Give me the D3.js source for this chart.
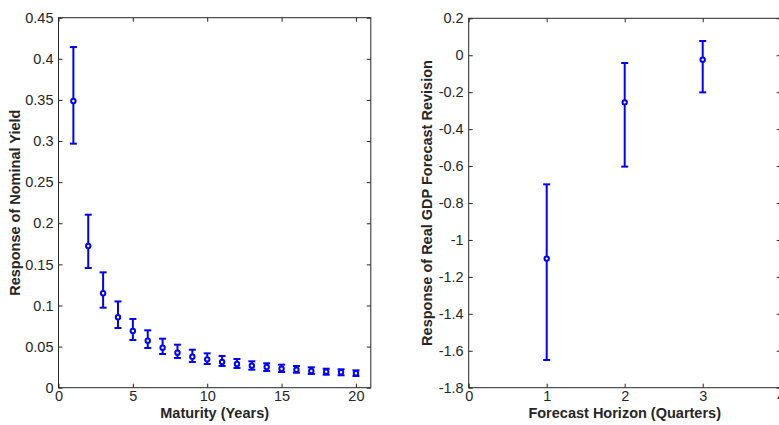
<!DOCTYPE html>
<html>
<head>
<meta charset="utf-8">
<script src="https://cdn.jsdelivr.net/npm/d3@7"></script>
<style>
  body { margin: 0; background: #fff; }
  svg { display: block; }
  text { font-family: "Liberation Sans", Arial, Helvetica, sans-serif; }
</style>
</head>
<body>
<svg id="chart" width="779" height="425"></svg>
<script>
// ---- Data ----
const maturity = [1,2,3,4,5,6,7,8,9,10,11,12,13,14,15,16,17,18,19,20];
const yieldMid = [0.3487,0.1723,0.1148,0.0856,0.0690,0.0572,0.0487,0.0426,0.0377,0.0345,0.0313,0.0288,0.0268,0.0252,0.0231,0.0219,0.0203,0.0195,0.0187,0.0175];
const yieldHi  = [0.4143,0.2104,0.1403,0.1049,0.0836,0.0698,0.0596,0.0523,0.0462,0.0418,0.0386,0.0349,0.0321,0.0297,0.0280,0.0264,0.0248,0.0231,0.0224,0.0211];
const yieldLo  = [0.2968,0.1456,0.0973,0.0726,0.0580,0.0483,0.0410,0.0361,0.0313,0.0288,0.0264,0.0240,0.0219,0.0203,0.0191,0.0182,0.0167,0.0158,0.0151,0.0142];

const horizon = [1,2,3];
const gdpMid = [-1.101,-0.255,-0.024];
const gdpHi  = [-0.699,-0.042,0.077];
const gdpLo  = [-1.650,-0.603,-0.201];

const leftXTicks = [0,5,10,15,20];
const leftXTickLabels = ["0","5","10","15","20"];
const leftYTicks = [0,0.05,0.1,0.15,0.2,0.25,0.3,0.35,0.4,0.45];
const leftYTickLabels = ["0","0.05","0.1","0.15","0.2","0.25","0.3","0.35","0.4","0.45"];

const rightXTicks = [0,1,2,3,4];
const rightXTickLabels = ["0","1","2","3","4"];
const rightYTicks = [0.2,0,-0.2,-0.4,-0.6,-0.8,-1,-1.2,-1.4,-1.6,-1.8];
const rightYTickLabels = ["0.2","0","-0.2","-0.4","-0.6","-0.8","-1","-1.2","-1.4","-1.6","-1.8"];

// ---- Drawing ----
const svg = d3.select("#chart");
const axisColor = "#262626";
const markColor = "#0000ff";

function panel(cfg) {
  const x = d3.scaleLinear().domain(cfg.xDomain).range([cfg.x0, cfg.x1]);
  const y = d3.scaleLinear().domain(cfg.yDomain).range([cfg.y1, cfg.y0]);
  const g = svg.append("g");

  // box
  g.append("rect")
    .attr("x", cfg.x0).attr("y", cfg.y0)
    .attr("width", cfg.x1 - cfg.x0).attr("height", cfg.y1 - cfg.y0)
    .attr("fill", "none").attr("stroke", axisColor).attr("stroke-width", 1);

  const styleAxis = sel => {
    sel.select(".domain").remove();
    sel.selectAll(".tick line").attr("stroke", axisColor);
    sel.selectAll(".tick text").attr("fill", axisColor).style("font-size", "14.5px")
      .style("font-family", '"Liberation Sans", Arial, sans-serif');
  };

  const xl = cfg.xLabels, yl = cfg.yLabels;
  g.append("g").attr("transform", `translate(0,${cfg.y1})`)
    .call(d3.axisBottom(x).tickValues(cfg.xTicks).tickFormat((d,i) => xl[i]).tickSize(-4).tickPadding(3))
    .call(styleAxis);
  g.append("g").attr("transform", `translate(0,${cfg.y0})`)
    .call(d3.axisTop(x).tickValues(cfg.xTicks).tickFormat("").tickSize(-4))
    .call(styleAxis);
  g.append("g").attr("transform", `translate(${cfg.x0},0)`)
    .call(d3.axisLeft(y).tickValues(cfg.yTicks).tickFormat((d,i) => yl[i]).tickSize(-4).tickPadding(5))
    .call(styleAxis);
  g.append("g").attr("transform", `translate(${cfg.x1},0)`)
    .call(d3.axisRight(y).tickValues(cfg.yTicks).tickFormat("").tickSize(-4))
    .call(styleAxis);

  // axis titles
  g.append("text")
    .attr("x", (cfg.x0 + cfg.x1) / 2).attr("y", 418)
    .attr("text-anchor", "middle").attr("fill", axisColor)
    .style("font-size", "14.5px").style("font-weight", "bold")
    .text(cfg.xTitle);
  g.append("text")
    .attr("transform", `translate(${cfg.yTitleX},${(cfg.y0 + cfg.y1) / 2}) rotate(-90)`)
    .attr("text-anchor", "middle").attr("fill", axisColor)
    .style("font-size", "14.5px").style("font-weight", "bold")
    .text(cfg.yTitle);

  // error bars
  const data = cfg.xs.map((v, i) => ({x: v, m: cfg.mid[i], lo: cfg.lo[i], hi: cfg.hi[i]}));
  const cap = 3.5;
  const eb = g.append("g").attr("stroke", markColor).attr("stroke-width", 2);
  eb.selectAll("line.v").data(data).join("line")
    .attr("x1", d => x(d.x)).attr("x2", d => x(d.x))
    .attr("y1", d => y(d.lo)).attr("y2", d => y(d.hi));
  eb.selectAll("line.t").data(data).join("line")
    .attr("x1", d => x(d.x) - cap).attr("x2", d => x(d.x) + cap)
    .attr("y1", d => y(d.hi)).attr("y2", d => y(d.hi));
  eb.selectAll("line.b").data(data).join("line")
    .attr("x1", d => x(d.x) - cap).attr("x2", d => x(d.x) + cap)
    .attr("y1", d => y(d.lo)).attr("y2", d => y(d.lo));
  g.append("g").selectAll("circle").data(data).join("circle")
    .attr("cx", d => x(d.x)).attr("cy", d => y(d.m)).attr("r", 2.2)
    .attr("fill", "#fff").attr("stroke", markColor).attr("stroke-width", 2);
}

panel({
  x0: 58.5, x1: 370.8, y0: 17.7, y1: 387.7,
  xDomain: [0, 21], yDomain: [0, 0.45],
  xTicks: leftXTicks, xLabels: leftXTickLabels,
  yTicks: leftYTicks, yLabels: leftYTickLabels,
  xs: maturity, mid: yieldMid, lo: yieldLo, hi: yieldHi,
  xTitle: "Maturity (Years)", yTitle: "Response of Nominal Yield", yTitleX: 20
});

panel({
  x0: 468.7, x1: 780.7, y0: 18.3, y1: 387.7,
  xDomain: [0, 4], yDomain: [-1.8, 0.2],
  xTicks: rightXTicks, xLabels: rightXTickLabels,
  yTicks: rightYTicks, yLabels: rightYTickLabels,
  xs: horizon, mid: gdpMid, lo: gdpLo, hi: gdpHi,
  xTitle: "Forecast Horizon (Quarters)", yTitle: "Response of Real GDP Forecast Revision", yTitleX: 432
});
</script>
</body>
</html>
